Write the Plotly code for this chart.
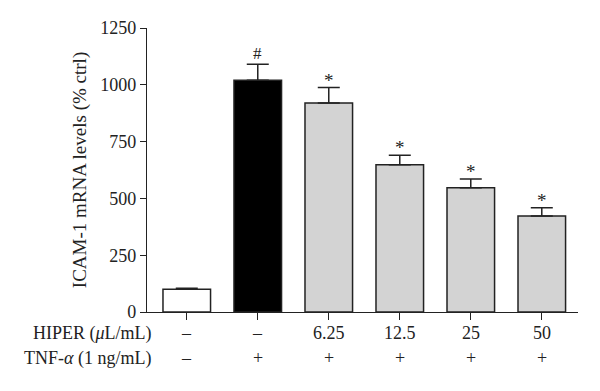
import plotly.graph_objects as go

categories = ["ctrl", "TNF", "6.25", "12.5", "25", "50"]
values = [100, 1020, 920, 648, 547, 422]
errors = [4, 70, 68, 42, 38, 37]
marks = ["", "#", "*", "*", "*", "*"]
hiper_labels = ["–", "–", "6.25", "12.5", "25", "50"]
tnf_labels = ["–", "+", "+", "+", "+", "+"]
bar_colors = ["white", "black", "#d3d3d3", "#d3d3d3", "#d3d3d3", "#d3d3d3"]
y_ticks = [0, 250, 500, 750, 1000, 1250]

FONT = "Liberation Serif, DejaVu Serif, serif"
TXT = "#222"
xs = list(range(len(categories)))

fig = go.Figure()
fig.add_trace(go.Bar(
    x=xs, y=values, width=0.67,
    marker=dict(color=bar_colors, line=dict(color=TXT, width=1.5)),
    error_y=dict(type="data", array=errors, arrayminus=[0]*len(errors), symmetric=False,
                 color=TXT, thickness=1.5, width=11),
    showlegend=False,
))

ann = []
for x, v, e, m in zip(xs, values, errors, marks):
    if m:
        ann.append(dict(x=x, y=v + e, xref="x", yref="y", text=m, showarrow=False,
                        yanchor="bottom", yshift=-5 if m == "*" else -1,
                        font=dict(family=FONT, size=19 if m == "*" else 17, color=TXT)))
for x, h, t in zip(xs, hiper_labels, tnf_labels):
    ann.append(dict(x=x, y=-0.074, xref="x", yref="paper", text=h, showarrow=False,
                    yanchor="middle", font=dict(family=FONT, size=18, color=TXT)))
    ann.append(dict(x=x, y=-0.162, xref="x", yref="paper", text=t, showarrow=False,
                    yanchor="middle", font=dict(family=FONT, size=18, color=TXT)))
ann.append(dict(x=0.016, y=-0.074, xref="paper", yref="paper", text="HIPER (<i>μ</i>L/mL)",
                showarrow=False, xanchor="right", yanchor="middle",
                font=dict(family=FONT, size=18, color=TXT)))
ann.append(dict(x=0.014, y=-0.162, xref="paper", yref="paper", text="TNF-<i>α</i> (1 ng/mL)",
                showarrow=False, xanchor="right", yanchor="middle",
                font=dict(family=FONT, size=18, color=TXT)))
ann.append(dict(x=-0.155, y=0.5, xref="paper", yref="paper", text="ICAM-1 mRNA levels (% ctrl)",
                showarrow=False, textangle=-90, xanchor="center", yanchor="middle",
                font=dict(family=FONT, size=19, color=TXT)))

fig.update_layout(
    width=600, height=391,
    margin=dict(l=139, r=30, t=20, b=87, autoexpand=False),
    paper_bgcolor="white", plot_bgcolor="white",
    font=dict(family=FONT, size=18, color=TXT),
    annotations=ann,
)
fig.update_xaxes(range=[-0.56, 5.51], tickvals=xs, ticktext=[""]*len(xs), ticks="outside",
                 ticklen=7, tickwidth=1.3, tickcolor=TXT, showline=True, linecolor=TXT,
                 linewidth=1.3, showgrid=False, zeroline=False)
fig.update_yaxes(range=[0, 1250], tickvals=y_ticks, ticks="outside", ticklen=6, tickwidth=1.3,
                 tickcolor=TXT, showline=True, linecolor=TXT, linewidth=1.3,
                 showgrid=False, zeroline=False, tickfont=dict(family=FONT, size=18, color=TXT))

fig.write_html("out.html")
